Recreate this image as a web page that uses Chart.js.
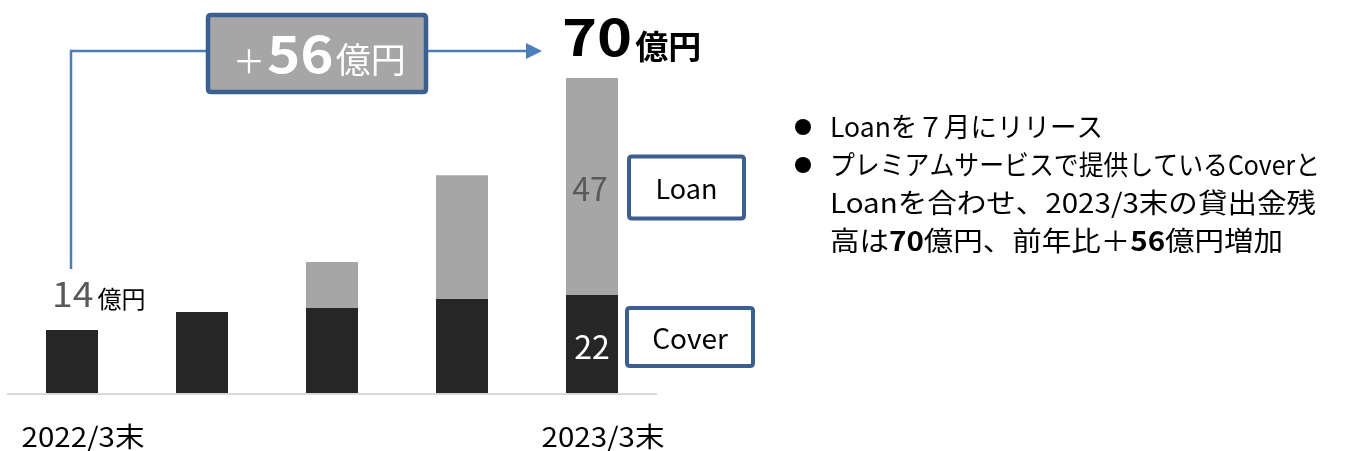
<!DOCTYPE html>
<html lang="ja">
<head>
  <meta charset="UTF-8">
  <title>貸出金残高</title>
  <script src="https://cdn.jsdelivr.net/npm/chart.js"></script>
  <style>
    html, body { margin: 0; padding: 0; background: #fff; }
    #wrap { width: 1349px; height: 451px; }
  </style>
</head>
<body>
<div id="wrap">
  <canvas id="graficoSaldo" width="1349" height="451"></canvas>
</div>

<script>
  // datos (億円)
  const categorias = ['2022/3末', '', '', '', '2023/3末'];
  const cover = [14, 18, 18.9, 20.9, 21.8];
  const loan = [0, 0, 10.2, 27.5, 48.2];
  const series = ['Cover', 'Loan'];

  // etiquetas que aparecen en el gráfico
  const etiquetaInicial = '14';
  const etiquetaCover = '22';
  const etiquetaLoan = '47';
  const etiquetaTotal = '70';
  const etiquetaDiferencia = '56';
  const unidad = '億円';

  const notas = [
    [['Loanを７月にリリース', false]],
    [['プレミアムサービスで提供しているCoverと', false]],
    [['Loanを合わせ、2023/3末の貸出金残', false]],
    [['高は', false], ['70', true], ['億円、前年比＋', false], ['56', true], ['億円増加', false]]
  ];
  // ancho aproximado de cada línea en la imagen original
  const anchoNotas = [273, 490, 486, 453];

  const FONT = '"Noto Sans CJK JP", "Noto Sans", sans-serif';
  const AZUL_LINEA = '#4a7ebb';
  const AZUL_BORDE = '#3b5f8e';

  function fuente(size, bold) {
    return (bold ? 'bold ' : '') + size + 'px ' + FONT;
  }

  function rectRedondo(ctx, x, y, w, h, r) {
    ctx.beginPath();
    ctx.moveTo(x + r, y);
    ctx.lineTo(x + w - r, y);
    ctx.quadraticCurveTo(x + w, y, x + w, y + r);
    ctx.lineTo(x + w, y + h - r);
    ctx.quadraticCurveTo(x + w, y + h, x + w - r, y + h);
    ctx.lineTo(x + r, y + h);
    ctx.quadraticCurveTo(x, y + h, x, y + h - r);
    ctx.lineTo(x, y + r);
    ctx.quadraticCurveTo(x, y, x + r, y);
    ctx.closePath();
  }

  // texto estirado horizontalmente (la fuente original es más ancha)
  function textoAncho(ctx, t, x, y, sx) {
    ctx.save();
    ctx.translate(x, y);
    ctx.scale(sx, 1);
    ctx.fillText(t, 0, 0);
    ctx.restore();
    return ctx.measureText(t).width * sx;
  }

  // eje inferior, debajo de las barras
  const ejePlugin = {
    id: 'eje',
    beforeDatasetsDraw(chart) {
      const { ctx, chartArea } = chart;
      ctx.save();
      ctx.strokeStyle = '#d9d9d9';
      ctx.lineWidth = 2;
      ctx.beginPath();
      ctx.moveTo(chartArea.left, chartArea.bottom + 1);
      ctx.lineTo(chartArea.right, chartArea.bottom + 1);
      ctx.stroke();
      ctx.restore();
    }
  };

  // anotaciones encima del gráfico
  const anotaciones = {
    id: 'anotaciones',
    afterDatasetsDraw(chart) {
      const { ctx } = chart;
      const x = chart.scales.x;
      const y = chart.scales.y;
      const n = categorias.length - 1;
      const meta = chart.getDatasetMeta(0);
      const anchoBarra = meta.data[0].width;

      ctx.save();

      // etiquetas de categoría
      ctx.fillStyle = '#000';
      ctx.font = fuente(27, false);
      ctx.textAlign = 'left';
      ctx.textBaseline = 'middle';
      categorias.forEach((c, i) => {
        if (!c) return;
        const w = ctx.measureText(c).width;
        const sx = 123 / w;
        textoAncho(ctx, c, x.getPixelForValue(i) + 11 - 61.5, 437, sx);
      });

      // 14億円 sobre la primera barra
      const x0 = x.getPixelForValue(0);
      const top0 = y.getPixelForValue(cover[0]);
      ctx.textBaseline = 'alphabetic';
      ctx.fillStyle = '#595959';
      ctx.font = fuente(34, false);
      const w14 = textoAncho(ctx, etiquetaInicial, x0 - 20, top0 - 23, 1.1);
      ctx.fillStyle = '#000';
      ctx.font = fuente(24, false);
      ctx.fillText(unidad, x0 - 20 + w14 + 4, top0 - 22);

      // valores dentro de la última barra
      const xn = x.getPixelForValue(n);
      const yCover = y.getPixelForValue(cover[n] / 2);
      const yLoan = y.getPixelForValue(cover[n] + loan[n] / 2);
      ctx.textAlign = 'center';
      ctx.textBaseline = 'middle';
      ctx.font = fuente(32, false);
      ctx.fillStyle = '#fff';
      ctx.fillText(etiquetaCover, xn, yCover + 3);
      ctx.fillStyle = '#595959';
      ctx.fillText(etiquetaLoan, xn - 2, yLoan + 2);

      // total sobre la última barra
      const topN = y.getPixelForValue(cover[n] + loan[n]);
      const xIzq = xn - anchoBarra / 2;
      ctx.textAlign = 'left';
      ctx.textBaseline = 'alphabetic';
      ctx.fillStyle = '#000';
      ctx.font = fuente(50, true);
      const w70 = textoAncho(ctx, etiquetaTotal, xIzq - 4, topN - 22, 1.19);
      ctx.font = fuente(33, true);
      ctx.fillText(unidad, xIzq - 4 + w70 + 3, topN - 19);

      // leyenda en cajas
      const cajas = [
        { texto: series[1], x: xn + 37, y: yLoan - 30, w: 115, h: 62, f: 27 },
        { texto: series[0], x: xn + 35, y: yCover - 36, w: 126, h: 58, f: 28 }
      ];
      cajas.forEach(c => {
        rectRedondo(ctx, c.x, c.y, c.w, c.h, 3);
        ctx.fillStyle = '#fff';
        ctx.fill();
        ctx.lineWidth = 4;
        ctx.strokeStyle = AZUL_BORDE;
        ctx.stroke();
        ctx.fillStyle = '#000';
        ctx.font = fuente(c.f, false);
        ctx.textAlign = 'center';
        ctx.textBaseline = 'middle';
        ctx.fillText(c.texto, c.x + c.w / 2, c.y + c.h / 2 + 1);
      });

      // línea conectora con flecha
      const yLinea = 51;
      const caja = { x: 208, y: 15, w: 218, h: 77 };
      const xFlecha = xIzq - 24;
      ctx.strokeStyle = AZUL_LINEA;
      ctx.lineWidth = 2.5;
      ctx.beginPath();
      ctx.moveTo(x0 - 1, top0 - 61);
      ctx.lineTo(x0 - 1, yLinea);
      ctx.lineTo(caja.x, yLinea);
      ctx.moveTo(caja.x + caja.w, yLinea);
      ctx.lineTo(xFlecha - 15, yLinea);
      ctx.stroke();
      ctx.fillStyle = AZUL_LINEA;
      ctx.beginPath();
      ctx.moveTo(xFlecha - 16, yLinea - 8);
      ctx.lineTo(xFlecha, yLinea);
      ctx.lineTo(xFlecha - 16, yLinea + 8);
      ctx.closePath();
      ctx.fill();

      // caja de diferencia
      rectRedondo(ctx, caja.x, caja.y, caja.w, caja.h, 3);
      ctx.fillStyle = '#a6a6a6';
      ctx.fill();
      ctx.lineWidth = 4.5;
      ctx.strokeStyle = AZUL_BORDE;
      ctx.stroke();

      ctx.fillStyle = '#fff';
      ctx.textAlign = 'left';
      ctx.textBaseline = 'alphabetic';
      let px = 233;
      ctx.font = fuente(32, false);
      px += textoAncho(ctx, '＋', px, 73, 1) + 2;
      ctx.font = fuente(50, true);
      px += textoAncho(ctx, etiquetaDiferencia, px, 73, 1.13) + 2;
      ctx.font = fuente(35, false);
      textoAncho(ctx, unidad, px, 73, 1);

      // texto explicativo a la derecha
      const xTexto = 830;
      const yLineas = [127, 165, 203, 241];
      ctx.fillStyle = '#000';
      ctx.textBaseline = 'middle';
      [0, 1].forEach(i => {
        ctx.beginPath();
        ctx.arc(803, yLineas[i], 8, 0, Math.PI * 2);
        ctx.fill();
      });
      notas.forEach((linea, i) => {
        let w = 0;
        linea.forEach(([t, negrita]) => {
          ctx.font = fuente(27, negrita);
          w += ctx.measureText(t).width;
        });
        const sx = anchoNotas[i] / w;
        let lx = xTexto;
        linea.forEach(([t, negrita]) => {
          ctx.font = fuente(27, negrita);
          lx += textoAncho(ctx, t, lx, yLineas[i], sx);
        });
      });

      ctx.restore();
    }
  };

  new Chart(document.getElementById('graficoSaldo'), {
    type: 'bar',
    data: {
      labels: categorias,
      datasets: [
        {
          label: series[0],
          data: cover,
          backgroundColor: '#262626',
          borderWidth: 0
        },
        {
          label: series[1],
          data: loan,
          backgroundColor: '#a6a6a6',
          borderWidth: 0
        }
      ]
    },
    options: {
      responsive: false,
      animation: false,
      barPercentage: 0.4,
      categoryPercentage: 1,
      layout: {
        padding: { left: 7, right: 692, top: 33, bottom: 58 }
      },
      plugins: {
        legend: { display: false },
        tooltip: { enabled: false }
      },
      scales: {
        x: { stacked: true, display: false },
        y: { stacked: true, display: false, min: 0, max: 80 }
      }
    },
    plugins: [ejePlugin, anotaciones]
  });
</script>
</body>
</html>
